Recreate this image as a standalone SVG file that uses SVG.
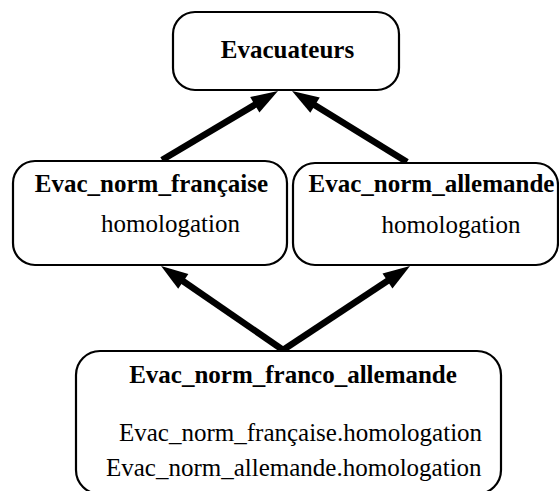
<svg xmlns="http://www.w3.org/2000/svg" width="559" height="491" viewBox="0 0 559 491">
<defs>
<style>
.box{fill:#fff;stroke:#000;stroke-width:2.2}
.b{font-family:"Liberation Serif","Times New Roman",serif;font-weight:bold;font-size:25px;fill:#000}
.r{font-family:"Liberation Serif","Times New Roman",serif;font-size:25px;fill:#000}
.arr{stroke:#000;stroke-width:6.5;fill:none;marker-end:url(#head)}
</style>
<marker id="head" markerUnits="userSpaceOnUse" orient="auto" refX="0" refY="0" markerWidth="60" markerHeight="60" overflow="visible">
<path d="M-12,-9 L15,0 L-12,9 z" fill="#000"/>
</marker>
</defs>
<rect width="559" height="491" fill="#fff"/>
<g id="connectors">
<line class="arr" x1="162" y1="160" x2="265.1" y2="98.7"/>
<line class="arr" x1="407" y1="162" x2="304.8" y2="98.9"/>
<line class="arr" x1="283" y1="350" x2="173.4" y2="274.5"/>
<line class="arr" x1="283" y1="350" x2="397.5" y2="274.3"/>
</g>
<g id="evacuateurs">
<rect class="box" x="173" y="12" width="226" height="78" rx="22"/>
<text class="b" x="287.5" y="58" text-anchor="middle">Evacuateurs</text>
</g>
<g id="evac_norm_francaise">
<rect class="box" x="13" y="161" width="274" height="104" rx="22"/>
<text class="b" x="151.5" y="192" text-anchor="middle">Evac_norm_française</text>
<text class="r" x="170.5" y="232" text-anchor="middle">homologation</text>
</g>
<g id="evac_norm_allemande">
<rect class="box" x="293" y="163" width="265" height="102" rx="22"/>
<text class="b" x="431.5" y="192" text-anchor="middle">Evac_norm_allemande</text>
<text class="r" x="451" y="233" text-anchor="middle">homologation</text>
</g>
<g id="evac_norm_franco_allemande">
<rect class="box" x="76" y="351" width="425" height="143" rx="24"/>
<text class="b" x="293" y="383" text-anchor="middle">Evac_norm_franco_allemande</text>
<text class="r" x="119" y="441">Evac_norm_française.homologation</text>
<text class="r" x="106" y="476">Evac_norm_allemande.homologation</text>
</g>
</svg>
